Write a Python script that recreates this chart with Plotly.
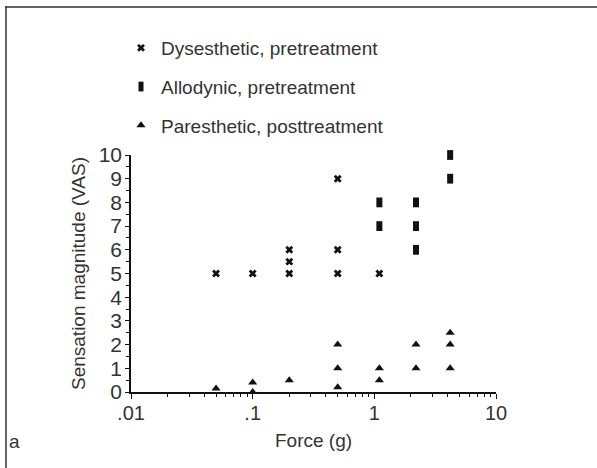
import plotly.graph_objects as go

dys_x = [0.05, 0.1, 0.2, 0.2, 0.2, 0.5, 0.5, 0.5, 1.1]
dys_y = [5, 5, 5, 5.5, 6, 5, 6, 9, 5]

allo_x = [1.1, 1.1, 2.2, 2.2, 2.2, 4.2, 4.2]
allo_y = [7, 8, 6, 7, 8, 9, 10]

par_x = [0.05, 0.1, 0.1, 0.2, 0.5, 0.5, 0.5, 1.1, 1.1, 2.2, 2.2, 4.2, 4.2, 4.2]
par_y = [0.15, 0, 0.4, 0.5, 0.2, 1, 2, 0.5, 1, 1, 2, 1, 2, 2.5]

x_tickvals = [0.01, 0.1, 1, 10]
x_ticktext = [".01", ".1", "1", "10"]
y_tickvals = list(range(0, 11))

FONT = "Liberation Sans, Arial, sans-serif"
TXT = "#333333"

fig = go.Figure()
fig.add_trace(go.Scatter(x=dys_x, y=dys_y, mode="markers", name="Dysesthetic, pretreatment",
                         legendgroup="a",
                         marker=dict(symbol="x", size=7, color="#111111", line=dict(width=0)),
                         cliponaxis=False))
fig.add_trace(go.Scatter(x=allo_x, y=allo_y, mode="markers", name="Allodynic, pretreatment",
                         legendgroup="b",
                         marker=dict(symbol="line-ns", size=7, color="#111111",
                                     line=dict(width=6, color="#111111")),
                         cliponaxis=False))
fig.add_trace(go.Scatter(x=par_x, y=par_y, mode="markers", name="Paresthetic, posttreatment",
                         legendgroup="c",
                         marker=dict(symbol="triangle-up", size=8, color="#111111", line=dict(width=0)),
                         cliponaxis=False))

W, H = 597, 468
L, R, T, B = 131, 496, 155, 392
pw, ph = R - L, B - T

def px(x):
    return (x - L) / pw

def py(y):
    return (B - y) / ph

fig.update_layout(
    width=W, height=H,
    margin=dict(l=L, r=W - R, t=T, b=H - B),
    paper_bgcolor="white", plot_bgcolor="white",
    font=dict(family=FONT, color=TXT, size=19),
    showlegend=True,
    legend=dict(x=px(121), y=py(29), xanchor="left", yanchor="top",
                font=dict(size=19, color=TXT), tracegroupgap=11,
                bgcolor="rgba(0,0,0,0)", itemwidth=30),
    xaxis=dict(type="log", range=[-2, 1], tickvals=x_tickvals, ticktext=x_ticktext,
               showgrid=False, zeroline=False, showline=True, linecolor="#111111", linewidth=1.5,
               ticks="outside", ticklen=5, tickcolor="#111111", tickwidth=1,
               tickfont=dict(size=20, color=TXT), ticklabelstandoff=-3,
               minor=dict(ticks="outside", ticklen=3, tickcolor="#111111", tickwidth=1,
                          tickvals=[m * 10 ** e for e in (-2, -1, 0) for m in range(2, 10)]),
               title=dict(text="Force (g)", font=dict(size=19, color=TXT), standoff=11)),
    yaxis=dict(range=[0, 10], tickvals=y_tickvals,
               showgrid=False, zeroline=False, showline=True, linecolor="#111111", linewidth=1.5,
               ticks="outside", ticklen=4, tickcolor="#111111", tickwidth=1,
               tickfont=dict(size=21, color=TXT), ticklabelstandoff=-1,
               minor=dict(ticks="outside", ticklen=3, tickcolor="#111111", tickwidth=1, dtick=0.5),
               title=dict(text="Sensation magnitude (VAS)", font=dict(size=19, color=TXT), standoff=8)),
    shapes=[
        dict(type="line", xref="paper", yref="paper", x0=px(5), x1=px(600), y0=py(7), y1=py(7),
             line=dict(color="#333333", width=1.5)),
        dict(type="line", xref="paper", yref="paper", x0=px(6), x1=px(6), y0=py(6.3), y1=py(470),
             line=dict(color="#333333", width=1.5)),
    ],
    annotations=[
        dict(text="a", xref="paper", yref="paper", x=px(15), y=py(441), showarrow=False,
             font=dict(size=19, color=TXT), xanchor="center", yanchor="middle"),
    ],
)

fig.write_html("out.html")
